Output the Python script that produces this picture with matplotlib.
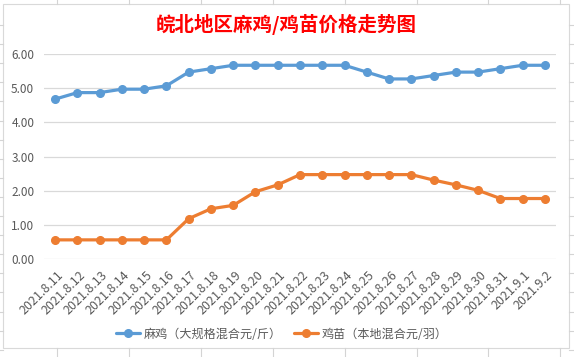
import numpy as np
import matplotlib
matplotlib.use("Agg")
import matplotlib.pyplot as plt
from matplotlib.patches import Rectangle
import matplotlib.transforms as mtransforms

# data
dates = ['2021.8.11', '2021.8.12', '2021.8.13', '2021.8.14', '2021.8.15', '2021.8.16',
         '2021.8.17', '2021.8.18', '2021.8.19', '2021.8.20', '2021.8.21', '2021.8.22',
         '2021.8.23', '2021.8.24', '2021.8.25', '2021.8.26', '2021.8.27', '2021.8.28',
         '2021.8.29', '2021.8.30', '2021.8.31', '2021.9.1', '2021.9.2']
ma_ji = [4.68, 4.87, 4.87, 4.97, 4.97, 5.07, 5.47, 5.57, 5.67, 5.67, 5.67, 5.67,
         5.67, 5.67, 5.47, 5.27, 5.27, 5.37, 5.47, 5.47, 5.57, 5.67, 5.67]
ji_miao = [0.56, 0.56, 0.56, 0.56, 0.56, 0.56, 1.18, 1.47, 1.57, 1.97, 2.17, 2.47,
           2.47, 2.47, 2.47, 2.47, 2.47, 2.31, 2.17, 2.01, 1.77, 1.77, 1.77]
series_names = ['麻鸡（大规格混合元/斤）', '鸡苗（本地混合元/羽）']
title = '皖北地区麻鸡/鸡苗价格走势图'

plt.rcParams['font.family'] = ['Noto Sans CJK SC', 'DejaVu Sans']

W, H = 574, 357
fig = plt.figure(figsize=(W / 100, H / 100), dpi=100)

# excel sheet behind the chart (cell lines + chart border)
bg = fig.add_axes([0, 0, 1, 1], zorder=-1)
bg.set_xlim(0, W)
bg.set_ylim(H, 0)
bg.axis('off')
for x in np.arange(57, W, 71.9):
    bg.plot([x, x], [0, 4], color='#D4D4D4', lw=0.8)
    bg.plot([x, x], [348, H], color='#D4D4D4', lw=0.8)
for y in np.arange(25, H, 19.1):
    bg.plot([0, 3], [y, y], color='#D4D4D4', lw=0.8)
    bg.plot([569, W], [y, y], color='#D4D4D4', lw=0.8)
bg.add_patch(Rectangle((3, 4), 566, 344, facecolor='white', edgecolor='#D9D9D9', lw=0.8))

# plot area
ax = fig.add_axes([44 / W, (H - 259) / H, 512 / W, 205 / H])
ax.patch.set_alpha(0)
x = np.arange(len(dates))
ax.plot(x, ma_ji, color='#5B9BD5', lw=2.3, marker='o', ms=5.5, label=series_names[0],
        solid_capstyle='round')
ax.plot(x, ji_miao, color='#ED7D31', lw=2.3, marker='o', ms=5.5, label=series_names[1],
        solid_capstyle='round')

ax.set_xlim(-0.5, len(dates) - 0.5)
ax.set_ylim(0, 6)
ax.set_yticks(np.arange(0, 7, 1))
ax.set_yticklabels([f'{v:.2f}' for v in np.arange(0, 7, 1)])
ax.yaxis.grid(True, color='#D9D9D9', lw=0.9)
ax.set_axisbelow(True)
for s in ax.spines.values():
    s.set_visible(False)
ax.tick_params(axis='both', length=0, colors='#595959', labelsize=8.5)
ax.tick_params(axis='y', pad=7)

ax.set_xticks(x)
ax.set_xticklabels(dates, rotation=45, ha='right', va='center', rotation_mode='anchor',
                   fontsize=9)
ax.tick_params(axis='x', pad=10)
offset = mtransforms.ScaledTranslation(6 / 100, 0, fig.dpi_scale_trans)
for lab in ax.get_xticklabels():
    lab.set_transform(lab.get_transform() + offset)

fig.text(286 / W, 1 - 24 / H, title, color='#FF0000', fontsize=14, fontweight='bold',
         ha='center', va='center')

fig.legend(loc='center', bbox_to_anchor=(282 / W, 1 - 334 / H), ncol=2, frameon=False,
           fontsize=8.7, labelcolor='#595959', handlelength=2.0, columnspacing=1.0,
           handletextpad=0.3)

fig.savefig('out.png', dpi=100)
